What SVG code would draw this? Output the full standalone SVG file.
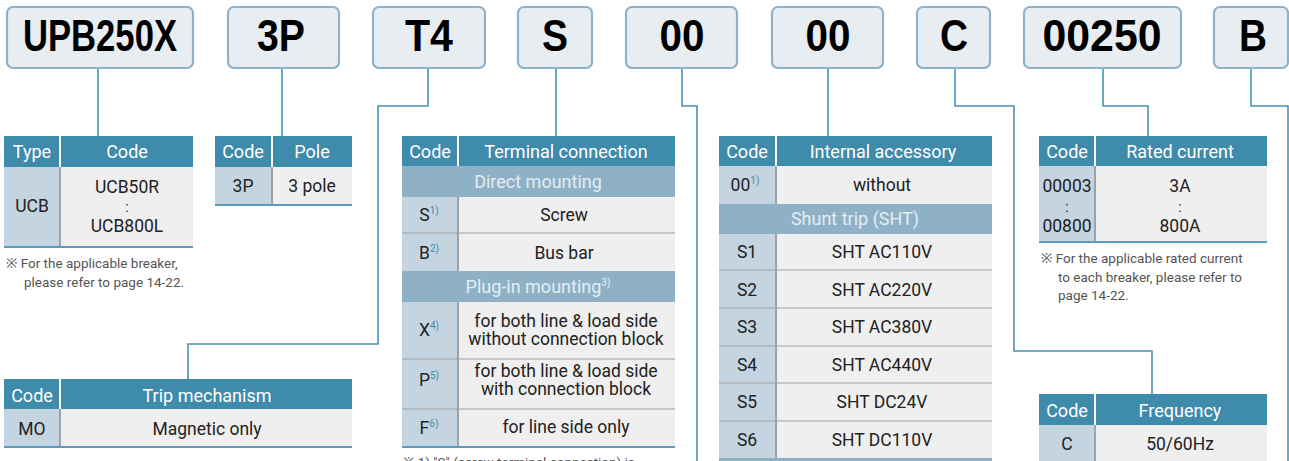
<svg xmlns="http://www.w3.org/2000/svg" width="1289" height="461" viewBox="0 0 1289 461">
<style>
.box{fill:#e8edf1;stroke:#8cb3c9;stroke-width:2.2}
.bt{font-family:"Liberation Sans",Arial,sans-serif;font-weight:bold;font-size:44px;fill:#000;text-anchor:middle}
.hd{fill:#3f8bab}
.sub{fill:#8fb1c6}
.cc{fill:#c4d5e1}
.dc{fill:#efefef}
.ht{font-family:Roboto,"Noto Sans",sans-serif;font-size:18px;fill:#fff;text-anchor:middle}
.st{font-family:Roboto,"Noto Sans",sans-serif;font-size:18px;fill:#e4edf3;text-anchor:middle}
.tx{font-family:Roboto,"Noto Sans",sans-serif;font-size:17.5px;fill:#222;text-anchor:middle}
.cl{font-family:Roboto,"Noto Sans",sans-serif;font-size:14px;fill:#222;text-anchor:middle}
.nt{font-family:Roboto,"Noto Sans",sans-serif;font-size:13.5px;fill:#555}
.sp{font-size:10px;fill:#3f8bab}
.spw{font-size:10px;fill:#e4edf3}
.hs{stroke:#fff;stroke-width:2}
.vs{stroke:#9aa4ac;stroke-width:2}
.rs{stroke:#a2a2a2;stroke-width:1.2}
.bb{stroke:#5d9bb9;stroke-width:2}
.con{fill:none;stroke:#4a93b3;stroke-width:1.6}
</style>

<g id="connectors">
<path class="con" d="M98 68 V136"/>
<path class="con" d="M282 68 V136"/>
<path class="con" d="M428 68 V106 H378 V344 H188 V379"/>
<path class="con" d="M556 68 V136"/>
<path class="con" d="M682 68 V106 H697 V461"/>
<path class="con" d="M828 68 V136"/>
<path class="con" d="M955 68 V106 H1014 V351 H1152 V394"/>
<path class="con" d="M1103 68 V106 H1148 V136"/>
<path class="con" d="M1251 68 V106 H1288 V461"/>
</g>

<g id="box-upb250x"><rect class="box" x="7" y="7" width="186" height="61" rx="6"/><text class="bt" x="100" y="51" textLength="154" lengthAdjust="spacingAndGlyphs">UPB250X</text></g>
<g id="box-3p"><rect class="box" x="228" y="7" width="111" height="61" rx="6"/><text class="bt" x="281" y="51" textLength="48" lengthAdjust="spacingAndGlyphs">3P</text></g>
<g id="box-t4"><rect class="box" x="373" y="7" width="112" height="61" rx="6"/><text class="bt" x="429" y="51" textLength="48" lengthAdjust="spacingAndGlyphs">T4</text></g>
<g id="box-s"><rect class="box" x="518" y="7" width="74" height="61" rx="6"/><text class="bt" x="555" y="51" textLength="26" lengthAdjust="spacingAndGlyphs">S</text></g>
<g id="box-00a"><rect class="box" x="626" y="7" width="111" height="61" rx="6"/><text class="bt" x="682" y="51" textLength="45" lengthAdjust="spacingAndGlyphs">00</text></g>
<g id="box-00b"><rect class="box" x="772" y="7" width="111" height="61" rx="6"/><text class="bt" x="828" y="51" textLength="45" lengthAdjust="spacingAndGlyphs">00</text></g>
<g id="box-c"><rect class="box" x="917" y="7" width="73" height="61" rx="6"/><text class="bt" x="954" y="51" textLength="28" lengthAdjust="spacingAndGlyphs">C</text></g>
<g id="box-00250"><rect class="box" x="1024" y="7" width="157" height="61" rx="6"/><text class="bt" x="1102" y="51" textLength="119" lengthAdjust="spacingAndGlyphs">00250</text></g>
<g id="box-b"><rect class="box" x="1214" y="7" width="74" height="61" rx="6"/><text class="bt" x="1253" y="51" textLength="28" lengthAdjust="spacingAndGlyphs">B</text></g>

<g id="table-type">
<rect class="hd" x="4" y="136" width="189" height="31"/>
<rect class="cc" x="4" y="167" width="56" height="80"/>
<rect class="dc" x="60" y="167" width="133" height="80"/>
<line class="hs" x1="60" y1="136" x2="60" y2="167"/>
<line class="vs" x1="60" y1="167" x2="60" y2="247"/>
<line class="bb" x1="4" y1="247" x2="193" y2="247"/>
<text class="ht" x="32" y="158">Type</text>
<text class="ht" x="127" y="158">Code</text>
<text class="tx" x="32" y="212">UCB</text>
<text class="tx" x="127" y="193">UCB50R</text>
<text class="cl" x="127" y="212">:</text>
<text class="tx" x="127" y="232">UCB800L</text>
<text class="nt" x="6" y="268">※ For the applicable breaker,</text>
<text class="nt" x="24" y="287">please refer to page 14-22.</text>
</g>

<g id="table-pole">
<rect class="hd" x="215" y="136" width="137" height="31"/>
<rect class="cc" x="215" y="167" width="57" height="38"/>
<rect class="dc" x="272" y="167" width="80" height="38"/>
<line class="hs" x1="272" y1="136" x2="272" y2="167"/>
<line class="vs" x1="272" y1="167" x2="272" y2="205"/>
<line class="bb" x1="215" y1="205" x2="352" y2="205"/>
<text class="ht" x="243" y="158">Code</text>
<text class="ht" x="312" y="158">Pole</text>
<text class="tx" x="243" y="192">3P</text>
<text class="tx" x="312" y="192">3 pole</text>
</g>

<g id="table-terminal">
<rect class="hd" x="402" y="136" width="273" height="30"/>
<rect class="sub" x="402" y="166" width="273" height="31"/>
<rect class="cc" x="402" y="197" width="56" height="74"/>
<rect class="dc" x="458" y="197" width="217" height="74"/>
<rect class="sub" x="402" y="271" width="273" height="31"/>
<rect class="cc" x="402" y="302" width="56" height="145"/>
<rect class="dc" x="458" y="302" width="217" height="145"/>
<line class="hs" x1="458" y1="136" x2="458" y2="166"/>
<line class="vs" x1="458" y1="197" x2="458" y2="271"/>
<line class="vs" x1="458" y1="302" x2="458" y2="447"/>
<line class="rs" x1="402" y1="233" x2="675" y2="233"/>
<line class="rs" x1="402" y1="359" x2="675" y2="359"/>
<line class="rs" x1="402" y1="409" x2="675" y2="409"/>
<line class="bb" x1="402" y1="447" x2="675" y2="447"/>
<text class="ht" x="430" y="158">Code</text>
<text class="ht" x="566" y="158">Terminal connection</text>
<text class="st" x="538" y="188">Direct mounting</text>
<text class="tx" x="429" y="221">S<tspan class="sp" dy="-7">1)</tspan></text>
<text class="tx" x="564" y="221">Screw</text>
<text class="tx" x="429" y="259">B<tspan class="sp" dy="-7">2)</tspan></text>
<text class="tx" x="564" y="259">Bus bar</text>
<text class="st" x="538" y="293">Plug-in mounting<tspan class="spw" dy="-7">3)</tspan></text>
<text class="tx" x="429" y="336">X<tspan class="sp" dy="-7">4)</tspan></text>
<text class="tx" x="566" y="327">for both line &amp; load side</text>
<text class="tx" x="566" y="345">without connection block</text>
<text class="tx" x="429" y="386">P<tspan class="sp" dy="-7">5)</tspan></text>
<text class="tx" x="566" y="377">for both line &amp; load side</text>
<text class="tx" x="566" y="395">with connection block</text>
<text class="tx" x="429" y="434">F<tspan class="sp" dy="-7">6)</tspan></text>
<text class="tx" x="566" y="433">for line side only</text>
<text class="nt" x="403" y="467">※ 1) "S" (screw terminal connection) is</text>
</g>

<g id="table-accessory">
<rect class="hd" x="719" y="136" width="273" height="30"/>
<rect class="cc" x="719" y="166" width="57" height="38"/>
<rect class="dc" x="776" y="166" width="216" height="38"/>
<rect class="sub" x="719" y="204" width="273" height="30"/>
<rect class="cc" x="719" y="234" width="57" height="224"/>
<rect class="dc" x="776" y="234" width="216" height="224"/>
<rect class="sub" x="719" y="458" width="273" height="6"/>
<line class="hs" x1="776" y1="136" x2="776" y2="166"/>
<line class="vs" x1="776" y1="166" x2="776" y2="204"/>
<line class="vs" x1="776" y1="234" x2="776" y2="458"/>
<line class="rs" x1="719" y1="270" x2="992" y2="270"/>
<line class="rs" x1="719" y1="308" x2="992" y2="308"/>
<line class="rs" x1="719" y1="346" x2="992" y2="346"/>
<line class="rs" x1="719" y1="383" x2="992" y2="383"/>
<line class="rs" x1="719" y1="421" x2="992" y2="421"/>
<text class="ht" x="747" y="158">Code</text>
<text class="ht" x="883" y="158">Internal accessory</text>
<text class="tx" x="745" y="191">00<tspan class="sp" dy="-7">1)</tspan></text>
<text class="tx" x="882" y="191">without</text>
<text class="st" x="855" y="225">Shunt trip (SHT)</text>
<text class="tx" x="747" y="258">S1</text><text class="tx" x="882" y="258">SHT AC110V</text>
<text class="tx" x="747" y="296">S2</text><text class="tx" x="882" y="296">SHT AC220V</text>
<text class="tx" x="747" y="333">S3</text><text class="tx" x="882" y="333">SHT AC380V</text>
<text class="tx" x="747" y="371">S4</text><text class="tx" x="882" y="371">SHT AC440V</text>
<text class="tx" x="747" y="408">S5</text><text class="tx" x="882" y="408">SHT DC24V</text>
<text class="tx" x="747" y="446">S6</text><text class="tx" x="882" y="446">SHT DC110V</text>
</g>

<g id="table-rated">
<rect class="hd" x="1039" y="136" width="228" height="30"/>
<rect class="cc" x="1039" y="166" width="56" height="76"/>
<rect class="dc" x="1095" y="166" width="172" height="76"/>
<line class="hs" x1="1095" y1="136" x2="1095" y2="166"/>
<line class="vs" x1="1095" y1="166" x2="1095" y2="242"/>
<line class="bb" x1="1039" y1="242" x2="1267" y2="242"/>
<text class="ht" x="1067" y="158">Code</text>
<text class="ht" x="1180" y="158">Rated current</text>
<text class="tx" x="1067" y="192">00003</text>
<text class="cl" x="1067" y="212">:</text>
<text class="tx" x="1067" y="232">00800</text>
<text class="tx" x="1180" y="192">3A</text>
<text class="cl" x="1180" y="212">:</text>
<text class="tx" x="1180" y="232">800A</text>
<text class="nt" x="1041" y="263">※ For the applicable rated current</text>
<text class="nt" x="1058" y="282">to each breaker, please refer to</text>
<text class="nt" x="1058" y="300">page 14-22.</text>
</g>

<g id="table-frequency">
<rect class="hd" x="1039" y="394" width="228" height="31"/>
<rect class="cc" x="1039" y="425" width="56" height="36"/>
<rect class="dc" x="1095" y="425" width="172" height="36"/>
<line class="hs" x1="1095" y1="394" x2="1095" y2="425"/>
<line class="vs" x1="1095" y1="425" x2="1095" y2="461"/>
<text class="ht" x="1067" y="417">Code</text>
<text class="ht" x="1180" y="417">Frequency</text>
<text class="tx" x="1067" y="450">C</text>
<text class="tx" x="1180" y="450">50/60Hz</text>
</g>

<g id="table-trip">
<rect class="hd" x="4" y="379" width="348" height="30"/>
<rect class="cc" x="4" y="409" width="56" height="38"/>
<rect class="dc" x="60" y="409" width="292" height="38"/>
<line class="hs" x1="60" y1="379" x2="60" y2="409"/>
<line class="vs" x1="60" y1="409" x2="60" y2="447"/>
<line class="bb" x1="4" y1="447" x2="352" y2="447"/>
<text class="ht" x="32" y="402">Code</text>
<text class="ht" x="207" y="402">Trip mechanism</text>
<text class="tx" x="32" y="435">MO</text>
<text class="tx" x="207" y="435">Magnetic only</text>
</g>
</svg>
